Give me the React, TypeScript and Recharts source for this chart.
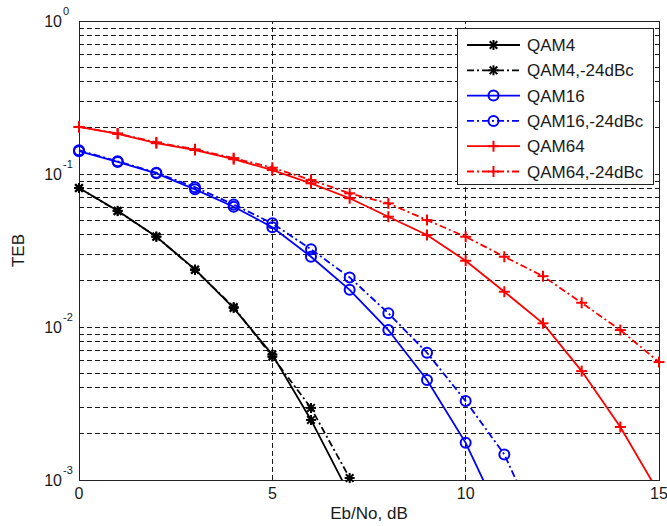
import React from "react";
import {
  LineChart,
  Line,
  XAxis,
  YAxis,
  ReferenceLine,
  ReferenceArea,
  Legend,
} from "recharts";

// Eb/No points (dB) for each curve
const snrQAM4 = [0, 1, 2, 3, 4, 5, 6, 7];
const snrQAM16 = [0, 1, 2, 3, 4, 5, 6, 7, 8, 9, 10, 11];
const snrQAM16Clip = [0, 1, 2, 3, 4, 5, 6, 7, 8, 9, 10, 11, 12];
const snrQAM64 = [0, 1, 2, 3, 4, 5, 6, 7, 8, 9, 10, 11, 12, 13, 14, 15];

// TEB
const tebQAM4 = [0.081, 0.0575, 0.0389, 0.0238, 0.0133, 0.0066, 0.00247, 0.0008];
const tebQAM4Clip = [0.081, 0.0572, 0.039, 0.0236, 0.0135, 0.0064, 0.00296, 0.00103];
const tebQAM16 = [0.141, 0.12, 0.101, 0.0794, 0.0611, 0.0449, 0.0288, 0.0175, 0.00955, 0.00451, 0.00175, 0.00051];
const tebQAM16Clip = [0.143, 0.121, 0.102, 0.082, 0.0632, 0.0476, 0.0322, 0.0211, 0.0123, 0.00679, 0.00328, 0.00147, 0.00041];
const tebQAM64 = [0.203, 0.183, 0.159, 0.1435, 0.125, 0.106, 0.0869, 0.0694, 0.0526, 0.0399, 0.0271, 0.017, 0.01057, 0.00515, 0.00222, 0.00082];
const tebQAM64Clip = [0.203, 0.184, 0.161, 0.145, 0.127, 0.11, 0.0914, 0.0748, 0.0643, 0.05, 0.0389, 0.0288, 0.0215, 0.0144, 0.00955, 0.0059];

const xTicks = [0, 5, 10, 15];
const yTicks = [0.001, 0.01, 0.1, 1];
const yGrid = [
  0.002, 0.003, 0.004, 0.005, 0.006, 0.007, 0.008, 0.009, 0.01,
  0.02, 0.03, 0.04, 0.05, 0.06, 0.07, 0.08, 0.09, 0.1,
  0.2, 0.3, 0.4, 0.5, 0.6, 0.7, 0.8, 0.9,
];
const xGrid = [5, 10];

const FONT = '"Liberation Sans", Arial, sans-serif';
const DASHDOT = "7 3 2 3";
const GRID_DASH = "5 3";
const Y_MIN = 0.001;

const toPoints = (xs: number[], ys: number[]) => xs.map((x, i) => ({ x, y: ys[i] }));

const series = [
  { name: "QAM4", data: toPoints(snrQAM4, tebQAM4), color: "#000000", dash: undefined, marker: "star" },
  { name: "QAM4,-24dBc", data: toPoints(snrQAM4, tebQAM4Clip), color: "#000000", dash: DASHDOT, marker: "star" },
  { name: "QAM16", data: toPoints(snrQAM16, tebQAM16), color: "#0000ff", dash: undefined, marker: "circle" },
  { name: "QAM16,-24dBc", data: toPoints(snrQAM16Clip, tebQAM16Clip), color: "#0000ff", dash: DASHDOT, marker: "circle" },
  { name: "QAM64", data: toPoints(snrQAM64, tebQAM64), color: "#ff0000", dash: undefined, marker: "plus" },
  { name: "QAM64,-24dBc", data: toPoints(snrQAM64, tebQAM64Clip), color: "#ff0000", dash: DASHDOT, marker: "plus" },
];

const Marker = ({ kind, cx, cy, color }: { kind: string; cx: number; cy: number; color: string }) => {
  if (kind === "circle") {
    return <circle cx={cx} cy={cy} r={5} fill="none" stroke={color} strokeWidth={2} />;
  }
  if (kind === "plus") {
    return (
      <g stroke={color} strokeWidth={2}>
        <line x1={cx - 5.5} x2={cx + 5.5} y1={cy} y2={cy} />
        <line x1={cx} x2={cx} y1={cy - 5.5} y2={cy + 5.5} />
      </g>
    );
  }
  // star: + and x on top of each other
  return (
    <g stroke={color} strokeWidth={2}>
      <line x1={cx - 5} x2={cx + 5} y1={cy} y2={cy} />
      <line x1={cx} x2={cx} y1={cy - 5} y2={cy + 5} />
      <line x1={cx - 3.8} x2={cx + 3.8} y1={cy - 3.8} y2={cy + 3.8} />
      <line x1={cx - 3.8} x2={cx + 3.8} y1={cy + 3.8} y2={cy - 3.8} />
    </g>
  );
};

const XTick = (props: any) => {
  const { x, y, payload } = props;
  return (
    <text x={x} y={y + 19} textAnchor="middle" fontSize={16} fill="#1a1a1a" fontFamily={FONT}>
      {payload.value}
    </text>
  );
};

const YTick = (props: any) => {
  const { x, y, payload } = props;
  const exp = Math.round(Math.log10(payload.value));
  return (
    <g fontFamily={FONT} fill="#1a1a1a">
      <text x={x - 17} y={y + 6} textAnchor="end" fontSize={16}>
        10
      </text>
      <text x={x - 16} y={y - 6} textAnchor="start" fontSize={11}>
        {exp}
      </text>
    </g>
  );
};

const renderLegend = () => (
  <div
    style={{
      width: 197,
      height: 157,
      boxSizing: "border-box",
      border: "1px solid #222",
      background: "#fff",
    }}
  >
    <svg width={195} height={155} style={{ display: "block" }}>
      {series.map((s, i) => {
        const cy = 16 + i * 25.3;
        return (
          <g key={s.name}>
            <line x1={9} x2={62} y1={cy} y2={cy} stroke={s.color} strokeWidth={1.8} strokeDasharray={s.dash} />
            <Marker kind={s.marker} cx={35.5} cy={cy} color={s.color} />
            <text x={69} y={cy + 6} fontSize={17} fill="#1a1a1a" fontFamily={FONT}>
              {s.name}
            </text>
          </g>
        );
      })}
    </svg>
  </div>
);

export default function App() {
  return (
    <div style={{ position: "absolute", left: 0, top: 0, background: "#fff" }}>
      <LineChart
        width={667}
        height={526}
        margin={{ top: 21, right: 8, left: 0, bottom: 0 }}
        style={{ fontFamily: FONT }}
      >
        <XAxis
          dataKey="x"
          type="number"
          domain={[0, 15]}
          ticks={xTicks}
          tick={<XTick />}
          tickLine={false}
          axisLine={false}
          tickSize={0}
          tickMargin={0}
          height={46}
          label={{ value: "Eb/No, dB", position: "insideBottom", offset: 7, fontSize: 17, fill: "#1a1a1a" }}
        />
        <YAxis
          dataKey="y"
          type="number"
          scale="log"
          domain={[Y_MIN, 1]}
          allowDataOverflow
          ticks={yTicks}
          tick={<YTick />}
          tickLine={false}
          axisLine={false}
          tickSize={0}
          tickMargin={0}
          width={79}
          label={{
            value: "TEB",
            angle: -90,
            position: "insideLeft",
            offset: 18,
            fontSize: 17,
            fill: "#1a1a1a",
            style: { textAnchor: "middle" },
          }}
        />
        {/* hidden twin axis so markers on the plot edges are not clipped */}
        <YAxis yAxisId="m" type="number" scale="log" domain={[Y_MIN, 1]} hide />
        {yGrid.map((v) => (
          <ReferenceLine
            key={"gy" + v}
            y={v}
            stroke="#1a1a1a"
            strokeWidth={1}
            strokeDasharray={GRID_DASH}
            shapeRendering="crispEdges"
          />
        ))}
        {xGrid.map((v) => (
          <ReferenceLine
            key={"gx" + v}
            x={v}
            stroke="#1a1a1a"
            strokeWidth={1}
            strokeDasharray={GRID_DASH}
            shapeRendering="crispEdges"
          />
        ))}
        <ReferenceArea
          x1={0}
          x2={15}
          y1={Y_MIN}
          y2={1}
          fill="none"
          stroke="#222"
          strokeWidth={1}
          ifOverflow="visible"
          shapeRendering="crispEdges"
        />
        {series.map((s) => (
          <Line
            key={s.name}
            data={s.data}
            dataKey="y"
            name={s.name}
            stroke={s.color}
            strokeWidth={1.8}
            strokeDasharray={s.dash}
            dot={false}
            activeDot={false}
            isAnimationActive={false}
          />
        ))}
        {series.map((s) => (
          <Line
            key={s.name + "-markers"}
            yAxisId="m"
            data={s.data.filter((p) => p.y >= Y_MIN)}
            dataKey="y"
            stroke="none"
            legendType="none"
            activeDot={false}
            dot={(p: any) => <Marker key={p.index} kind={s.marker} cx={p.cx} cy={p.cy} color={s.color} />}
            isAnimationActive={false}
          />
        ))}
        <Legend
          layout="vertical"
          align="center"
          verticalAlign="middle"
          width={197}
          height={157}
          content={renderLegend}
          wrapperStyle={{ left: 457, top: 28, width: 197, height: 157 }}
        />
      </LineChart>
    </div>
  );
}
